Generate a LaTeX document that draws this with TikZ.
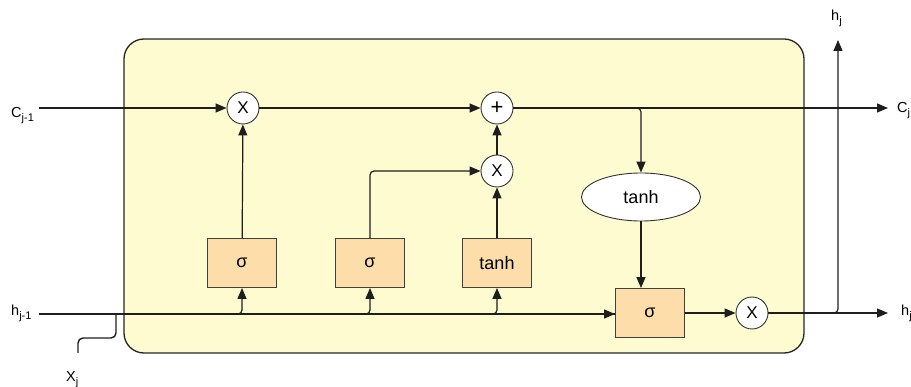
\documentclass[tikz,border=0pt]{standalone}
\usepackage{fontspec}
\setmainfont{Liberation Sans}
\usetikzlibrary{arrows.meta,shapes.geometric}
\definecolor{bgyellow}{RGB}{253,251,207}
\definecolor{gatefill}{RGB}{253,221,170}
\definecolor{linecol}{RGB}{30,30,30}
\tikzset{
  x=1pt,y=-1pt,
  arr/.style={draw=linecol,line width=1.2pt,-{Triangle[length=11pt,width=9pt]}},
  ln/.style={draw=linecol,line width=1.4pt},
  gate/.style={draw=black!75,line width=0.9pt,fill=gatefill,minimum width=69pt,minimum height=49pt,inner sep=0pt,font=\fontsize{18}{18}\selectfont},
  op/.style={circle,draw=black!80,line width=0.9pt,fill=white,minimum size=32pt,inner sep=0pt,font=\fontsize{17}{17}\selectfont},
  lbl/.style={anchor=base west,inner sep=0pt,font=\fontsize{14.5}{14.5}\selectfont},
  sub/.style={},
}
\newcommand{\lsub}[1]{\raisebox{-3.5pt}{\fontsize{11}{11}\selectfont #1}}
\begin{document}
\begin{tikzpicture}
\useasboundingbox (0,0) rectangle (911,387);
% cell body
\node[draw=black!85,line width=1.3pt,fill=bgyellow,rounded corners=20pt,minimum width=680pt,minimum height=314pt,inner sep=0pt] (cell) at (464,196) {};
% operators
\node[op] (m1) at (243,108) {X};
\node[op,font=\fontsize{22}{22}\selectfont] (add) at (497,108) {+};
\node[op] (m2) at (497,171) {X};
\node[op] (m3) at (752,313) {X};
% gates
\node[gate] (f) at (242,263) {σ};
\node[gate] (i) at (370,263) {σ};
\node[gate] (g) at (497,263) {tanh};
\node[gate] (o) at (650,313) {σ};
\node[ellipse,draw=black!80,line width=0.9pt,fill=white,minimum width=119pt,minimum height=48pt,inner sep=0pt,font=\fontsize{18}{18}\selectfont] (th) at (641,197) {tanh};
% free ends
\coordinate (cin) at (39,108);
\coordinate (cout) at (888,108);
\coordinate (hin) at (39,314);
\coordinate (hout) at (888,313);
\coordinate (hup) at (838,40);
\coordinate (xin) at (78,353);
\coordinate (xjoin) at (116,314);
% labels
\node[lbl] (lc) at (11,118) {C\lsub{j-1}};
\node[lbl] (lh) at (11,316) {h\lsub{j-1}};
\node[lbl] (lx) at (66,382) {X\lsub{j}};
\node[lbl] (lht) at (831,21) {h\lsub{j}};
\node[lbl] (lcj) at (897,113) {C\lsub{j}};
\node[lbl] (lhj) at (901,316) {h\lsub{j}};
% cell state line
\draw[arr] (cin) -- (m1);
\draw[arr] (m1) -- (add);
\draw[arr] (add) -- (cout);
\draw[arr,rounded corners=4pt] (add.east) -| (th.north);
\draw[arr] (th.south) -- (th.south |- o.north);
% hidden input line
\draw[ln] (hin) -- (o.west |- hin);
\draw[arr] (hin) -- (o.west |- hin);
\draw[arr,rounded corners=4pt] (hin) -| (f.south);
\draw[arr,rounded corners=4pt] (hin) -| (i.south);
\draw[arr,rounded corners=4pt] (hin) -| (g.south);
\draw[ln,rounded corners=5pt] (xin) |- (100,338) -| (xjoin);
% gates to operators
\draw[arr] (f) -- (m1);
\draw[arr,rounded corners=4pt] (i.north) |- (m2.west);
\draw[arr] (g) -- (m2);
\draw[arr] (m2) -- (add);
\draw[arr] (o) -- (m3);
\draw[arr] (m3) -- (hout);
\draw[arr,rounded corners=4pt] (m3.east) -| (hup);
\end{tikzpicture}
\end{document}
